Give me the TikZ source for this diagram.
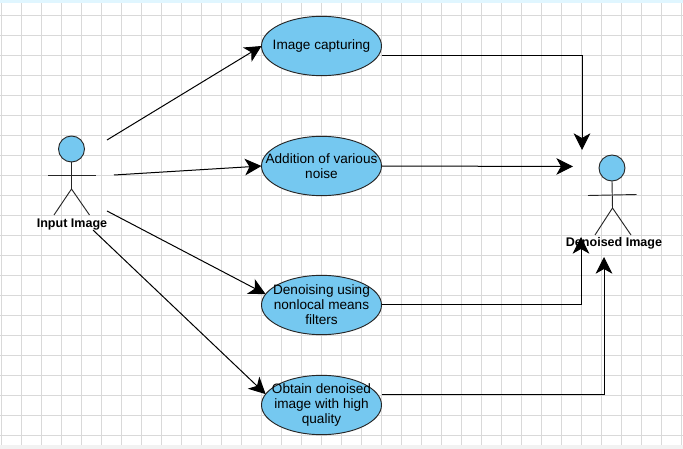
\documentclass[tikz,border=0pt]{standalone}
\usepackage{fontspec}
\setmainfont{Liberation Sans}
\usetikzlibrary{arrows.meta,shapes.geometric}
\definecolor{ucfill}{HTML}{75C8F0}
\definecolor{gridc}{HTML}{D9D9D9}
\tikzset{
  usecase/.style={ellipse,draw=black!85,fill=ucfill,line width=0.7pt,minimum width=90pt,minimum height=44.5pt,inner xsep=-22pt,inner ysep=-22pt,outer sep=0pt,align=center,font=\fontsize{10.2}{11.3}\selectfont,execute at begin node={\vspace*{1.5pt}}},
  conn/.style={draw=black,line width=0.75pt,-{Stealth[length=12.5pt,width=12.5pt,inset=3.5pt]}},
  stick/.style={draw=black!85,line width=0.7pt},
  head/.style={circle,draw=black!85,fill=ucfill,line width=0.7pt,minimum size=19.5pt,inner sep=0pt,outer sep=0pt},
  actorlabel/.style={inner sep=0pt,font=\fontsize{9.4}{11}\selectfont\bfseries},
  gridline/.style={draw=gridc,line width=0.8pt}
}
\begin{document}
\begin{tikzpicture}[x=0.75pt,y=-0.75pt]
\useasboundingbox (0,0) rectangle (683,449);
\fill[white] (0,0) rectangle (683,449);
\foreach \gx in {1.5,21.5,...,682} {\draw[gridline] (\gx,3) -- (\gx,445);}
\foreach \gy in {15.5,35.5,...,444} {\draw[gridline] (0,\gy) -- (683,\gy);}
\fill[blue!30!cyan!12] (0,0) rectangle (683,3);
\fill[black!5] (0,445) rectangle (683,449);
% use cases
\node[usecase] (e1) at (321.5,46) {Image capturing};
\node[usecase] (e2) at (321.5,166) {Addition of various\\noise};
\node[usecase] (e3) at (321.5,305) {Denoising using\\nonlocal means\\filters};
\node[usecase] (e4) at (321.5,405) {Obtain denoised\\image with high\\quality};
% input actor
\node[head] (h1) at (71.5,149) {};
\coordinate (hip1) at (71.5,189);
\coordinate (armL1) at (48,175);
\coordinate (armR1) at (96,175);
\coordinate (legL1) at (54,215);
\coordinate (legR1) at (89.5,215);
\draw[stick] (h1.south) -- (hip1);
\draw[stick] (armL1) -- (armR1);
\draw[stick] (legL1) -- (hip1) -- (legR1);
% output actor
\node[head] (h2) at (612,168) {};
\coordinate (hip2) at (612.5,208);
\coordinate (armL2) at (588,195.5);
\coordinate (armR2) at (636.5,194.5);
\coordinate (legL2) at (595,235);
\coordinate (legR2) at (631,235);
\draw[stick] (h2.south) -- (hip2);
\draw[stick] (armL2) -- (armR2);
\draw[stick] (legL2) -- (hip2) -- (legR2);
% free ends
\coordinate (s1) at (107,140);
\coordinate (s2) at (114,175);
\coordinate (s3) at (107,211);
\coordinate (s4) at (93,230);
\coordinate (t1) at (582,150);
\coordinate (t2) at (573,166.5);
\coordinate (t3) at (581,237);
\coordinate (t4) at (604,257);
\coordinate (b1) at (582,56);
\coordinate (b3) at (581,305);
\coordinate (b4) at (604,395);
% connectors
\draw[conn] (s1) -- (e1.west);
\draw[conn] (s2) -- (e2.west);
\draw[conn] (s3) -- (e3.169);
\draw[conn] (s4) -- (e4.169);
\draw[conn] (e1.east |- b1) -- (b1) -- (t1);
\draw[conn] (e2.east) -- (t2);
\draw[conn] (e3.east) -- (b3) -- (t3);
\draw[conn] (e4.east |- b4) -- (b4) -- (t4);
% labels
\node[actorlabel] (l1) at (72,225) {Input Image};
\node[actorlabel] (l2) at (614,243.5) {Denoised Image};
\end{tikzpicture}
\end{document}
